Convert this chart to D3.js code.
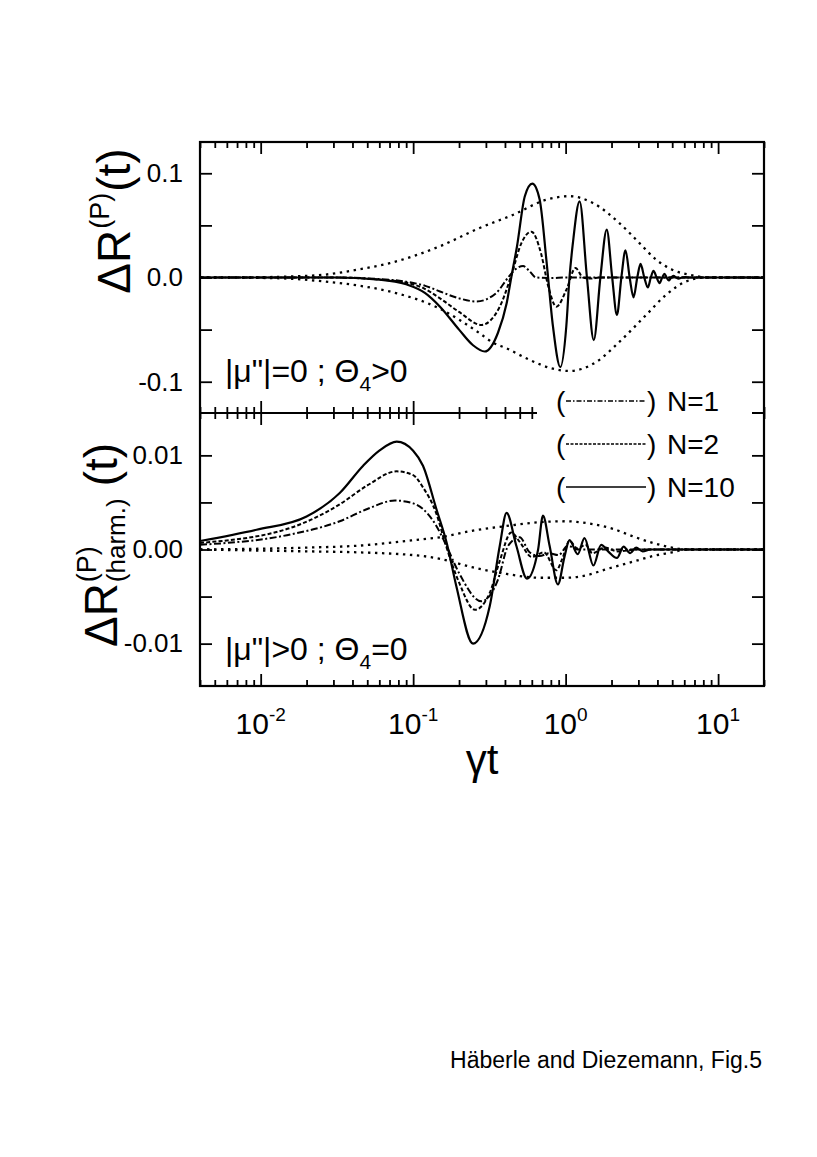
<!DOCTYPE html>
<html>
<head>
<meta charset="utf-8">
<script src="https://cdn.jsdelivr.net/npm/d3@7/dist/d3.min.js"></script>
<style>
body { margin: 0; background: #fff; }
text { font-family: "Liberation Sans", Arial, sans-serif; fill: #000; }
</style>
</head>
<body>
<script>
// values: [gamma t, Delta R]
var xDomain = [0.004, 20];
var xMajor = [0.01, 0.1, 1, 10];
var xLabels = ["-2", "-1", "0", "1"];

var topDomain = [-0.13, 0.13];
var topTicks = [-0.1, -0.05, 0, 0.05, 0.1];
var topLabels = {"0.1": "0.1", "0": "0.0", "-0.1": "-0.1"};
var botDomain = [-0.0145, 0.0145];
var botTicks = [-0.01, -0.005, 0, 0.005, 0.01];
var botLabels = {"0.01": "0.01", "0": "0.00", "-0.01": "-0.01"};

// upper panel, |mu''| = 0
var topN1 = [[0.004,0],[0.03,0],[0.06,-0.0015],[0.09,-0.004],[0.12,-0.008],[0.15,-0.0134],
  [0.2,-0.020],[0.26,-0.023],[0.35,-0.015],[0.42,0],[0.47,0.008],[0.526,0.011],[0.58,0.006],
  [0.64,0],[0.8,-0.0005],[1.0,0],[20,0]];
var topN2 = [[0.004,0],[0.03,0],[0.06,-0.002],[0.09,-0.005],[0.116,-0.01],[0.15,-0.020],
  [0.2,-0.033],[0.28,-0.0455],[0.37,-0.028],[0.44,0.002],[0.513,0.033],[0.596,0.044],
  [0.69,0.023],[0.77,-0.0087],[0.87,-0.028],[1.01,-0.012],[1.16,0.009],[1.3,0],[1.45,-0.001],
  [1.7,0],[20,0]];
var topN10 = [[0.004,0],[0.03,0],[0.06,-0.002],[0.09,-0.0065],[0.12,-0.015],[0.15,-0.028],
  [0.2,-0.050],[0.247,-0.065],[0.295,-0.071],[0.36,-0.053],[0.41,-0.025],[0.44,0],[0.48,0.030],
  [0.54,0.078],[0.605,0.090],[0.675,0.075],[0.75,0.015],[0.826,-0.047],[0.923,-0.086],
  [1.01,-0.047],[1.06,0],[1.116,0.033],[1.235,0.073],[1.38,0],[1.53,-0.060],[1.69,0],
  [1.86,0.046],[2.02,0],[2.17,-0.036],[2.32,0],[2.47,0.026],[2.63,0],[2.79,-0.019],[2.95,0],
  [3.10,0.013],[3.28,0],[3.46,-0.0096],[3.62,0],[3.77,0.0064],[3.95,0],[4.13,-0.0054],[4.3,0],
  [4.45,0.0036],[4.6,0],[4.75,-0.0029],[4.92,0],[5.1,0.0015],[5.3,0],[5.5,-0.001],[5.8,0],
  [6.1,0.0004],[6.5,0],[20,0]];
var topUpper = [[0.004,0],[0.01,0.0003],[0.016,0.001],[0.0258,0.0026],[0.0426,0.0074],
  [0.0703,0.0138],[0.15,0.030],[0.273,0.0475],[0.45,0.060],[0.75,0.0747],[1.06,0.078],
  [1.51,0.0715],[2.26,0.052],[3.05,0.033],[3.93,0.017],[5.0,0.0075],[6.8,0.002],[8.5,0],[20,0]];
var topLower = [[0.004,0],[0.01,-0.0004],[0.016,-0.0012],[0.026,-0.0038],[0.045,-0.008],
  [0.07,-0.0134],[0.15,-0.030],[0.27,-0.053],[0.334,-0.0625],[0.41,-0.068],[0.58,-0.079],
  [0.8,-0.087],[1.06,-0.0897],[1.59,-0.081],[2.26,-0.0615],[3.37,-0.036],[4.56,-0.0166],
  [6.17,-0.0038],[8.3,0],[20,0]];

// lower panel, harmonic part
var botN1 = [[0.004,0.0005],[0.0157,0.0016],[0.033,0.003],[0.05,0.0043],[0.076,0.0052],
  [0.1,0.0049],[0.116,0.0043],[0.142,0.0025],[0.162,0.0007],[0.2,-0.0025],[0.28,-0.0055],
  [0.36,-0.0032],[0.42,0.0004],[0.5,0.0013],[0.58,-0.0003],[0.675,-0.0007],[0.78,-0.0004],
  [0.9,-0.0006],[1.03,0.0004],[1.2,0],[20,0]];
var botN2 = [[0.004,0.0007],[0.0157,0.0023],[0.033,0.0048],[0.05,0.0068],[0.078,0.0083],
  [0.1,0.0079],[0.116,0.0066],[0.142,0.0038],[0.162,0.0007],[0.2,-0.0035],[0.254,-0.0064],
  [0.318,-0.0046],[0.37,-0.0012],[0.44,0.0018],[0.5,0.0008],[0.6,-0.0008],[0.72,-0.0003],
  [0.87,-0.0022],[0.95,-0.001],[1.06,0.0009],[1.2,0.0001],[1.35,0.0005],[1.5,-0.0004],
  [1.8,0.0002],[2.2,-0.0002],[3,0],[20,0]];
var botN10 = [[0.004,0.0009],[0.0094,0.0021],[0.02,0.0035],[0.033,0.006],[0.047,0.0089],
  [0.06,0.0105],[0.078,0.01146],[0.1,0.0105],[0.116,0.0089],[0.142,0.0043],[0.166,0.0007],
  [0.192,-0.0039],[0.247,-0.0100],[0.318,-0.006],[0.37,0.0004],[0.41,0.0039],[0.475,0.0004],
  [0.558,-0.0031],[0.66,0],[0.71,0.0036],[0.785,0.0004],[0.89,-0.0037],[0.985,-0.0007],
  [1.06,0.001],[1.2,-0.0005],[1.33,0.0012],[1.52,-0.0017],[1.71,0.0005],[1.9,-0.0002],
  [2.17,-0.0009],[2.4,0.0003],[2.65,-0.0004],[2.9,0.0002],[3.2,-0.0002],[3.6,0],[20,0]];
var botUpper = [[0.004,0],[0.02,0.0002],[0.043,0.0004],[0.116,0.0011],[0.15,0.0013],
  [0.247,0.002],[0.41,0.0025],[0.675,0.0029],[1.0,0.003],[1.5,0.0027],[2.04,0.0022],
  [2.76,0.0014],[3.73,0.0007],[5.0,0.0002],[6.2,0],[20,0]];
var botLower = [[0.004,0],[0.02,-0.0002],[0.043,-0.0003],[0.116,-0.0007],[0.15,-0.001],
  [0.247,-0.0019],[0.41,-0.0026],[0.675,-0.003],[1.0,-0.003],[1.4,-0.0027],[1.84,-0.0021],
  [2.76,-0.0013],[3.73,-0.0007],[5.0,-0.0003],[6.2,0],[20,0]];

var legendNames = ["N=1", "N=2", "N=10"];

// frame of the two stacked panels
var pLeft = 200, pRight = 764, pTop = 142, pMid = 413, pBottom = 686;

var styles = {
  dashdot: {dash: "7,2.5,2,2.5", width: 2},
  dashed: {dash: "4,2.2", width: 2},
  solid: {dash: null, width: 2.2},
  dotted: {dash: "2.4,4.6", width: 2.3}
};

var svg = d3.select("body").append("svg")
  .attr("width", 817)
  .attr("height", 1157)
  .style("background", "white");

var x = d3.scaleLog().domain(xDomain).range([pLeft, pRight]);
var yTop = d3.scaleLinear().domain(topDomain).range([pMid, pTop]);
var yBot = d3.scaleLinear().domain(botDomain).range([pBottom, pMid]);

// clip areas
var defs = svg.append("defs");
defs.append("clipPath").attr("id", "clipTop").append("rect")
  .attr("x", pLeft).attr("y", pTop).attr("width", pRight - pLeft).attr("height", pMid - pTop);
defs.append("clipPath").attr("id", "clipBot").append("rect")
  .attr("x", pLeft).attr("y", pMid).attr("width", pRight - pLeft).attr("height", pBottom - pMid);

function drawCurve(data, y, style, clip) {
  var line = d3.line()
    .x(function(d) { return x(d[0]); })
    .y(function(d) { return y(d[1]); })
    .curve(d3.curveMonotoneX);
  svg.append("path")
    .datum(data)
    .attr("clip-path", "url(#" + clip + ")")
    .attr("d", line)
    .attr("fill", "none")
    .attr("stroke", "#000")
    .attr("stroke-width", styles[style].width)
    .attr("stroke-dasharray", styles[style].dash);
}

drawCurve(topUpper, yTop, "dotted", "clipTop");
drawCurve(topLower, yTop, "dotted", "clipTop");
drawCurve(topN1, yTop, "dashdot", "clipTop");
drawCurve(topN2, yTop, "dashed", "clipTop");
drawCurve(topN10, yTop, "solid", "clipTop");

drawCurve(botUpper, yBot, "dotted", "clipBot");
drawCurve(botLower, yBot, "dotted", "clipBot");
drawCurve(botN1, yBot, "dashdot", "clipBot");
drawCurve(botN2, yBot, "dashed", "clipBot");
drawCurve(botN10, yBot, "solid", "clipBot");

// x axes, ticks point into the panels
var minor = x.ticks().filter(function(d) { return xMajor.indexOf(d) < 0; });
function xAxis(ypos, gen) {
  var g1 = svg.append("g").attr("transform", "translate(0," + ypos + ")")
    .call(gen(x).tickValues(minor).tickSize(-6).tickFormat(""));
  var g2 = svg.append("g").attr("transform", "translate(0," + ypos + ")")
    .call(gen(x).tickValues(xMajor).tickSize(-12).tickFormat(""));
  [g1, g2].forEach(function(g) {
    g.select(".domain").remove();
    g.selectAll("line").attr("stroke-width", 1.8);
  });
}
xAxis(pTop, d3.axisTop);
xAxis(pMid, d3.axisBottom);
xAxis(pMid, d3.axisTop);
xAxis(pBottom, d3.axisBottom);

// y axes on both sides
function yAxis(y, ticks, labels) {
  var gl = svg.append("g").attr("transform", "translate(" + pLeft + ",0)")
    .call(d3.axisLeft(y).tickValues(ticks).tickSize(-12).tickPadding(17)
      .tickFormat(function(d) { return labels[String(d)] || ""; }));
  var gr = svg.append("g").attr("transform", "translate(" + pRight + ",0)")
    .call(d3.axisRight(y).tickValues(ticks).tickSize(-12).tickFormat(""));
  [gl, gr].forEach(function(g) {
    g.select(".domain").remove();
    g.selectAll("line").attr("stroke-width", 1.8);
  });
  gl.selectAll("text").attr("font-size", 26).attr("fill", "#000")
    .attr("font-family", "Liberation Sans, Arial, sans-serif");
}
yAxis(yTop, topTicks, topLabels);
yAxis(yBot, botTicks, botLabels);

// frame and the line between the panels
svg.append("rect")
  .attr("x", pLeft).attr("y", pTop)
  .attr("width", pRight - pLeft).attr("height", pBottom - pTop)
  .attr("fill", "none").attr("stroke", "#000").attr("stroke-width", 2.2);
svg.append("line")
  .attr("x1", pLeft).attr("x2", pRight).attr("y1", pMid).attr("y2", pMid)
  .attr("stroke", "#000").attr("stroke-width", 2.2);

// x tick labels 10^n
xMajor.forEach(function(d, i) {
  var t = svg.append("text")
    .attr("x", x(d))
    .attr("y", 734)
    .attr("text-anchor", "middle")
    .attr("font-size", 30);
  t.append("tspan").text("10");
  t.append("tspan").attr("font-size", 19).attr("dy", -13).text(xLabels[i]);
});

svg.append("text")
  .attr("x", (pLeft + pRight) / 2)
  .attr("y", 774)
  .attr("text-anchor", "middle")
  .attr("font-size", 42)
  .text("\u03B3t");

// rotated y titles built from pieces
function yTitle(bx, cy, sub, gap) {
  var g = svg.append("g");
  var a = g.append("text").attr("font-size", 46).text("\u0394R");
  var w1 = a.node().getComputedTextLength();
  var sp = g.append("text").attr("x", w1 + 1).attr("y", -21).attr("font-size", 27).text("(P)");
  var w2 = sp.node().getComputedTextLength();
  if (sub) {
    var sb = g.append("text").attr("x", w1 + 1).attr("y", 8).attr("font-size", 26).text(sub);
    w2 = Math.max(w2, sb.node().getComputedTextLength());
  }
  var c = g.append("text").attr("x", w1 + 1 + w2 + gap).attr("font-size", 46).text("(t)");
  var total = w1 + 1 + w2 + gap + c.node().getComputedTextLength();
  g.attr("transform", "translate(" + bx + "," + cy + ") rotate(-90) translate(" + (-total / 2) + ",0)");
}
yTitle(130, 221, null, 1);
yTitle(117, 545, "(harm.)", 12);

// panel notes
function note(ypos, a, b) {
  var t = svg.append("text").attr("x", 225).attr("y", ypos).attr("font-size", 32);
  t.append("tspan").text(a);
  t.append("tspan").attr("font-size", 21).attr("dy", 9).text("4");
  t.append("tspan").attr("dy", -9).text(b);
}
note(382, "|\u03BC\"|=0 ; \u0398", ">0");
note(660, "|\u03BC\"|>0 ; \u0398", "=0");

// legend with a white box over the axis
svg.append("rect")
  .attr("x", 537).attr("y", 388)
  .attr("width", 215).attr("height", 117)
  .attr("fill", "white");
var legendStyles = ["dashdot", "dashed", "solid"];
legendNames.forEach(function(name, i) {
  var base = 411 + i * 43;
  svg.append("text").attr("x", 556).attr("y", base).attr("font-size", 28).text("(");
  svg.append("line")
    .attr("x1", 566).attr("x2", 646)
    .attr("y1", base - 10).attr("y2", base - 10)
    .attr("stroke", "#000")
    .attr("stroke-width", 1.6)
    .attr("stroke-dasharray", legendStyles[i] == "dashdot" ? "5,2,1.5,2" :
      legendStyles[i] == "dashed" ? "3,1.5" : null);
  svg.append("text").attr("x", 647).attr("y", base).attr("font-size", 28).text(")");
  svg.append("text").attr("x", 667).attr("y", base).attr("font-size", 28).text(name);
});

svg.append("text")
  .attr("x", 762)
  .attr("y", 1068)
  .attr("text-anchor", "end")
  .attr("font-size", 23)
  .text("H\u00E4berle and Diezemann, Fig.5");
</script>
</body>
</html>
